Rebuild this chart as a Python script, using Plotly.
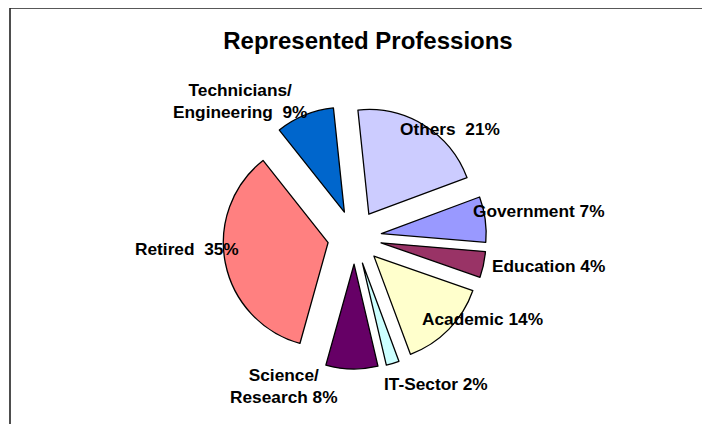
import plotly.graph_objects as go

W, H = 710, 424
OX, OY = 8, 8  # page body margin offset

categories = ["Others", "Government", "Education", "Academic", "IT-Sector",
              "Science/<br>Research", "Retired", "Technicians/<br>Engineering"]
values = [21, 7, 4, 14, 2, 8, 35, 9]
separators = ["\u00a0 ", " ", " ", " ", " ", " ", "\u00a0 ", "\u00a0 "]
colors = ["#CCCCFF", "#9999FF", "#993366", "#FFFFCC", "#CCFFFF",
          "#660066", "#FF8080", "#0066CC"]

# label centre positions in window pixels (layout only)
label_pos = [(450, 129), (539, 211), (548, 266), (482, 319), (436, 384),
             (284, 386), (187, 249), (240, 101)]


def px_x(x):
    return (x - OX) / W


def px_y(y):
    return 1 - (y - OY) / H


cx, cy, R = 354.6, 237.2, 131.8
pull = 0.258

fig = go.Figure()
fig.add_trace(go.Pie(
    labels=[c.replace("<br>", " ") for c in categories],
    values=values,
    sort=False,
    direction="clockwise",
    rotation=-6,
    pull=[pull] * len(values),
    textinfo="none",
    marker=dict(colors=colors, line=dict(color="black", width=1.3)),
    domain=dict(x=[px_x(cx - R), px_x(cx + R)],
                y=[px_y(cy + R), px_y(cy - R)]),
    showlegend=False,
))

font = dict(family="Liberation Sans, Arial, sans-serif", size=17.3,
            color="black", weight="bold")
for cat, val, sep, (px, py) in zip(categories, values, separators, label_pos):
    fig.add_annotation(
        x=px_x(px), y=px_y(py), xref="paper", yref="paper",
        text=f"{cat}{sep}{val}%", showarrow=False,
        xanchor="center", yanchor="middle", align="center", font=font,
    )

fig.add_shape(type="rect", xref="paper", yref="paper",
              x0=px_x(10), x1=1.2, y0=-0.2, y1=px_y(8),
              line=dict(color="#222222", width=1.6))

fig.update_layout(
    width=W, height=H,
    margin=dict(l=0, r=0, t=0, b=0),
    paper_bgcolor="white", plot_bgcolor="white",
    title=dict(text="Represented Professions", x=px_x(368), y=px_y(41),
               xanchor="center", yanchor="middle", xref="paper", yref="paper",
               font=dict(family="Liberation Sans, Arial, sans-serif", size=24,
                         color="black", weight="bold")),
)

fig.write_html("out.html")
